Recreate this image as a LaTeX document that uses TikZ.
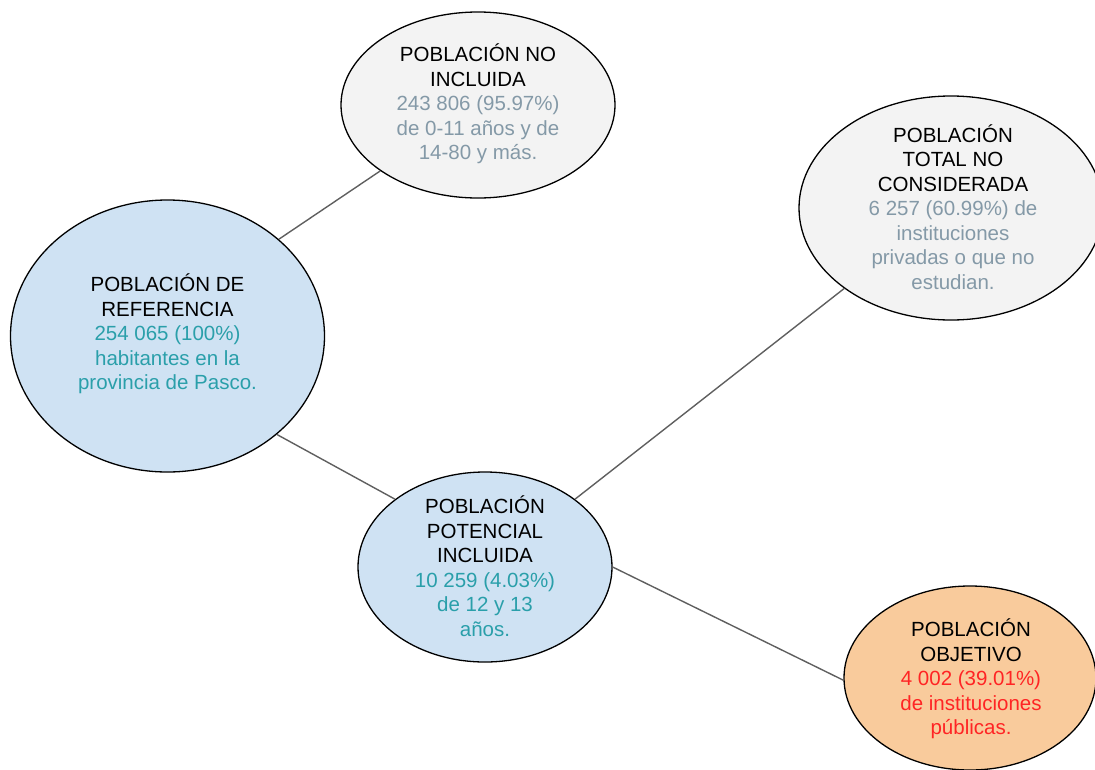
\documentclass[tikz,border=0pt]{standalone}
\usepackage{fontspec}
\setmainfont{Liberation Sans}
\usetikzlibrary{shapes.geometric}
\definecolor{fgrey}{HTML}{F3F3F3}
\definecolor{fblue}{HTML}{CFE2F3}
\definecolor{forange}{HTML}{F9CB9C}
\definecolor{tteal}{HTML}{2A9FAA}
\definecolor{tgrey}{HTML}{8499A7}
\definecolor{tred}{HTML}{FF2424}
\definecolor{lgrey}{HTML}{5F5F5F}
\tikzset{
  oval/.style={ellipse, draw=black, line width=1.3pt, inner sep=0pt},
  txt/.style={align=center, font=\fontsize{20.5pt}{24.5pt}\selectfont, inner sep=0pt},
  conn/.style={draw=lgrey, line width=1.4pt}
}
\begin{document}
\begin{tikzpicture}[x=1pt,y=-1pt]
\useasboundingbox (0,0) rectangle (1095,769);
\begin{scope}
\clip (0,0) rectangle (1095,769);
\node[oval, fill=fblue, minimum width=314pt, minimum height=272pt] (ref) at (167.5,336) {};
\node[oval, fill=fgrey, minimum width=274pt, minimum height=186pt] (noin) at (478,105) {};
\node[oval, fill=fgrey, minimum width=304pt, minimum height=224pt] (tot) at (951,208) {};
\node[oval, fill=fblue, minimum width=254pt, minimum height=190pt] (pot) at (485,567) {};
\node[oval, fill=forange, minimum width=252pt, minimum height=184pt] (obj) at (970,678) {};
\end{scope}
\node[txt] (refT) at (167.5,334) {POBLACIÓN DE\\REFERENCIA\\\textcolor{tteal}{254 065 (100\%)}\\\textcolor{tteal}{habitantes en la}\\\textcolor{tteal}{provincia de Pasco.}};
\node[txt] (noinT) at (478,104) {POBLACIÓN NO\\INCLUIDA\\\textcolor{tgrey}{243 806 (95.97\%)}\\\textcolor{tgrey}{de 0-11 años y de}\\\textcolor{tgrey}{14-80 y más.}};
\node[txt] (totT) at (953,207) {POBLACIÓN\\TOTAL NO\\CONSIDERADA\\\textcolor{tgrey}{6 257 (60.99\%) de}\\\textcolor{tgrey}{instituciones}\\\textcolor{tgrey}{privadas o que no}\\\textcolor{tgrey}{estudian.}};
\node[txt] (potT) at (485,566) {POBLACIÓN\\POTENCIAL\\INCLUIDA\\\textcolor{tteal}{10 259 (4.03\%)}\\\textcolor{tteal}{de 12 y 13}\\\textcolor{tteal}{años.}};
\node[txt] (objT) at (971,679) {POBLACIÓN\\OBJETIVO\\\textcolor{tred}{4 002 (39.01\%)}\\\textcolor{tred}{de instituciones}\\\textcolor{tred}{públicas.}};
\draw[conn] (ref.41.6) -- (noin.214.1);
\draw[conn] (ref.318.4) -- (pot.143.1);
\draw[conn] (pot.37.9) -- (tot.217.6);
\draw[conn] (pot.0) -- (obj.181);
\end{tikzpicture}
\end{document}
